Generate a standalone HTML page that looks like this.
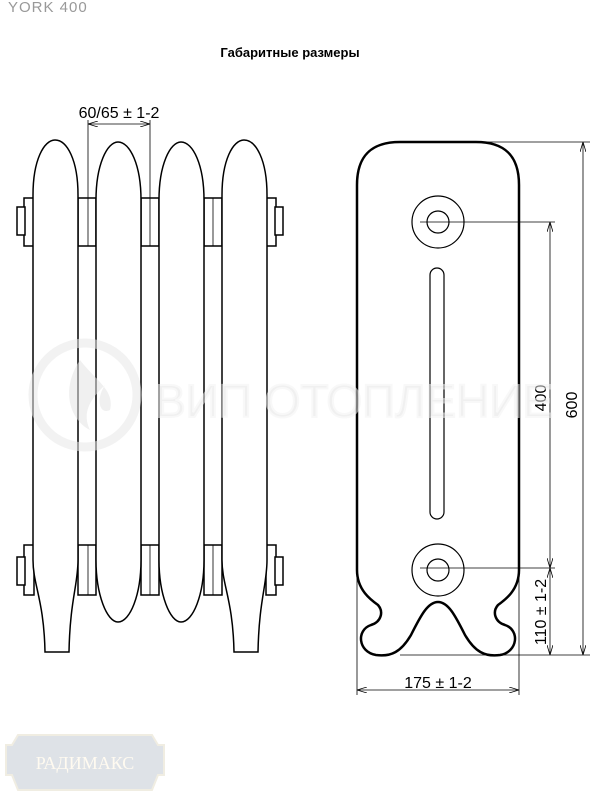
<!DOCTYPE html>
<html><head><meta charset="utf-8"><style>
html,body{margin:0;padding:0;background:#fff;width:600px;height:800px;overflow:hidden}
svg{display:block}
</style></head><body>
<svg width="600" height="800" viewBox="0 0 600 800" xmlns="http://www.w3.org/2000/svg" font-family="Liberation Sans, sans-serif">
<defs>
<marker id="a" markerWidth="10" markerHeight="6" refX="10" refY="3" orient="auto-start-reverse" markerUnits="userSpaceOnUse"><path d="M0,0 L10,3 L0,6" fill="none" stroke="#000" stroke-width="0.8"/></marker>
</defs>
<text x="8" y="12" font-size="15" fill="#999" letter-spacing="1">YORK 400</text>
<text x="290" y="57" font-size="13" font-weight="bold" text-anchor="middle">Габаритные размеры</text>

<g fill="#fff" stroke="#000" stroke-width="1.5">
<rect x="78" y="198" width="18" height="48"/><rect x="141" y="198" width="18" height="48"/><rect x="204" y="198" width="18" height="48"/>
<rect x="78" y="545" width="18" height="50"/><rect x="141" y="545" width="18" height="50"/><rect x="204" y="545" width="18" height="50"/>
<rect x="24" y="198" width="10" height="48"/><rect x="17" y="207" width="8" height="28"/>
<rect x="266" y="198" width="10" height="48"/><rect x="275" y="207" width="8" height="28"/>
<rect x="24" y="545" width="10" height="50"/><rect x="17" y="557" width="8" height="28"/>
<rect x="266" y="545" width="10" height="50"/><rect x="275" y="557" width="8" height="28"/>
<path d="M33,195 C33,160 44,140 55,140 C67,140 78,160 78,195 L78,560 C78,585 70,600 69,652 L45,652 C44,600 33,585 33,560 Z"/>
<path d="M222,195 C222,160 233,140 244,140 C256,140 267,160 267,195 L267,560 C267,585 259,600 258,652 L234,652 C233,600 222,585 222,560 Z"/>
<path d="M96,200 C96,165 107,142 118,142 C130,142 141,165 141,200 L141,560 C141,595 130,622 118,622 C107,622 96,595 96,560 Z"/>
<path d="M159,200 C159,165 170,142 181,142 C193,142 204,165 204,200 L204,560 C204,595 193,622 181,622 C170,622 159,595 159,560 Z"/>
</g>
<g stroke="#000" stroke-width="0.8">
<line x1="88" y1="198" x2="88" y2="246"/><line x1="150" y1="198" x2="150" y2="246"/><line x1="213" y1="198" x2="213" y2="246"/>
<line x1="88" y1="545" x2="88" y2="595"/><line x1="150" y1="545" x2="150" y2="595"/><line x1="213" y1="545" x2="213" y2="595"/>
<line x1="88" y1="120" x2="88" y2="198"/><line x1="150" y1="120" x2="150" y2="198"/>
<line x1="88" y1="124" x2="150" y2="124" marker-start="url(#a)" marker-end="url(#a)"/>
</g>
<text x="119" y="118" font-size="16" text-anchor="middle">60/65 ± 1-2</text>

<path d="M357,570 L357,185 C357,155 372,142 400,142 L476,142 C504,142 519,155 519,185 L519,570 C519,590 505,600 498,605 C492,612 495,622 505,625 C520,630 518,652 500,655 C485,657 475,652 465,635 C455,615 448,602 438,602 C428,602 421,615 411,635 C401,652 391,657 376,655 C358,652 356,630 371,625 C381,622 384,612 378,605 C371,600 357,590 357,570 Z" fill="#fff" stroke="#000" stroke-width="2.5"/>
<g fill="none" stroke="#000" stroke-width="1.2">
<circle cx="438" cy="222" r="26"/><circle cx="438" cy="222" r="11"/>
<circle cx="438" cy="570" r="26"/><circle cx="438" cy="570" r="11"/>
<rect x="430" y="268" width="14" height="251" rx="7"/>
</g>
<g stroke="#000" stroke-width="0.8" fill="none">
<line x1="440" y1="142" x2="590" y2="142"/>
<line x1="400" y1="655" x2="590" y2="655"/>
<line x1="583" y1="142" x2="583" y2="655" marker-start="url(#a)" marker-end="url(#a)"/>
<line x1="420" y1="222" x2="555" y2="222"/>
<line x1="420" y1="568" x2="555" y2="568"/>
<line x1="550" y1="222" x2="550" y2="568" marker-start="url(#a)" marker-end="url(#a)"/>
<line x1="550" y1="568" x2="550" y2="655" marker-start="url(#a)" marker-end="url(#a)"/>
<line x1="357" y1="570" x2="357" y2="695"/><line x1="519" y1="570" x2="519" y2="695"/>
<line x1="357" y1="690" x2="519" y2="690" marker-start="url(#a)" marker-end="url(#a)"/>
</g>
<g font-size="16">
<text transform="translate(546,398) rotate(-90)" text-anchor="middle">400</text>
<text transform="translate(577,405) rotate(-90)" text-anchor="middle">600</text>
<text transform="translate(546,612) rotate(-90)" text-anchor="middle">110 ± 1-2</text>
<text x="438" y="688" text-anchor="middle">175 ± 1-2</text>
</g>

<!-- watermark on top -->
<g opacity="0.55">
<circle cx="85" cy="395" r="52" fill="none" stroke="#e8e8e8" stroke-width="9"/>
<path d="M80,360 C60,390 70,420 90,430 C80,410 95,395 105,385 C95,400 100,415 110,410 C115,390 95,380 80,360Z" fill="#e4e4e4"/>
<text x="155" y="417" font-size="46" fill="#e4e4e4" stroke="#f4f4f4" stroke-width="2">ВИП ОТОПЛЕНИЕ</text>
</g>

<g opacity="0.45">
<path d="M18,735 L152,735 L158,745 L164,745 L164,775 L158,775 L152,790 L18,790 L12,775 L6,775 L6,745 L12,745 Z" fill="#b8c0cc" stroke="#e0d8c0" stroke-width="2"/>
<text x="85" y="769" font-size="18" text-anchor="middle" fill="#fff6e0" font-family="Liberation Serif, serif">РАДИМАКС</text>
</g>
</svg>
</body></html>
